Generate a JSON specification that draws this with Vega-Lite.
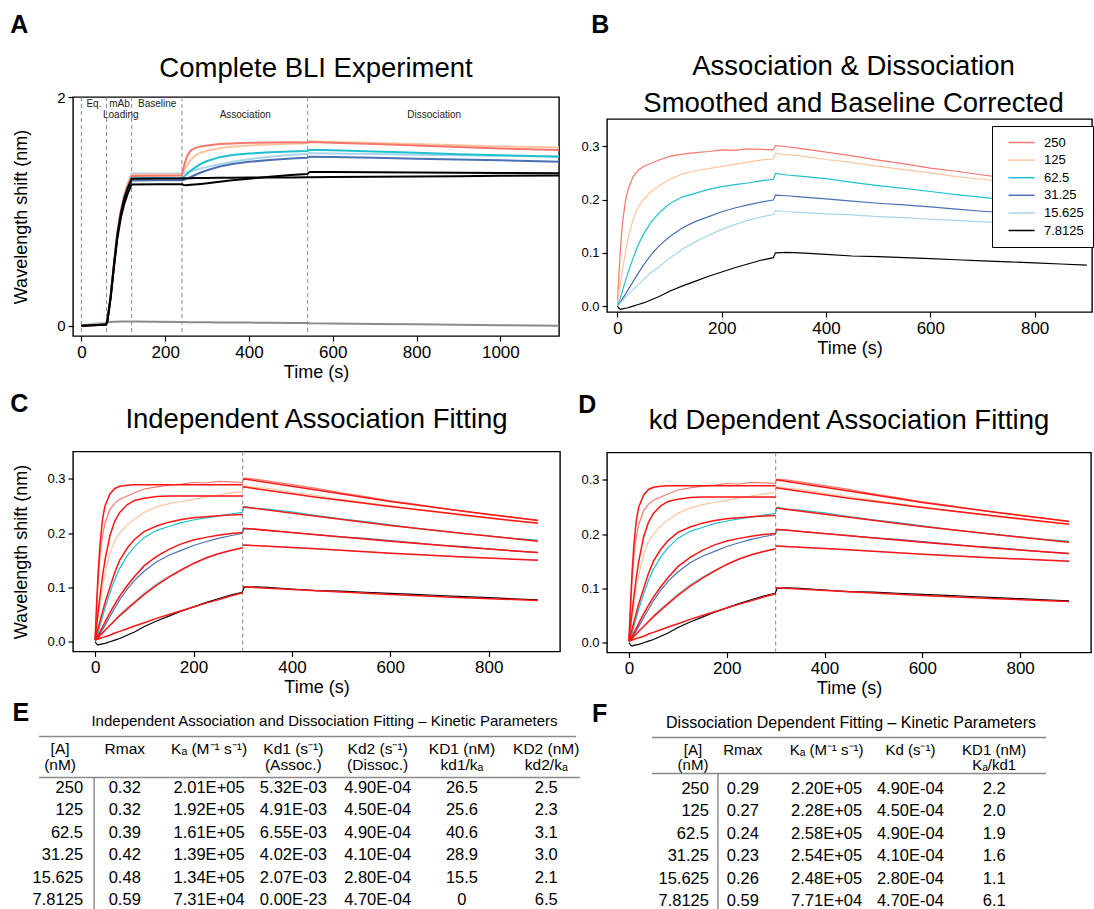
{
  "$schema": "https://vega.github.io/schema/vega-lite/v6.json",
  "background": "white",
  "padding": {"left": 10, "top": 8.5, "right": 0, "bottom": 0},
  "config": {
    "font": "Liberation Sans",
    "view": {"stroke": "black", "strokeWidth": 1.4},
    "axis": {"grid": false, "domain": false, "ticks": true, "tickColor": "black", "tickSize": 5, "tickWidth": 1.2, "labelColor": "black", "labelFont": "Liberation Sans", "labelPadding": 3, "titleFont": "Liberation Sans", "titleFontWeight": "normal", "titleColor": "black", "titleFontSize": 18, "titlePadding": 3, "labelFlush": false, "labelOverlap": false},
    "axisX": {"labelFontSize": 17},
    "axisY": {"labelFontSize": 13},
    "title": {"font": "Liberation Sans", "fontWeight": "normal", "color": "black"},
    "text": {"font": "Liberation Sans", "color": "black"}
  },
  "datasets": {
    "full": [
      {"t":0,"bare":0.0,"r15":0.0,"r31":0.0,"r62":0.0,"r125":0.0,"r250":0.0,"ref":0.0,"r7":0.0},
      {"t":30,"bare":0.01,"r15":0.02,"r31":0.008,"r62":0.008,"r125":0.008,"r250":0.008,"ref":0.005,"r7":0.005},
      {"t":59,"bare":0.02,"r15":0.028,"r31":0.012,"r62":0.012,"r125":0.012,"r250":0.012,"ref":0.01,"r7":0.01},
      {"t":62,"bare":0.03,"r15":0.045,"r31":0.04,"r62":0.04,"r125":0.04,"r250":0.04,"ref":0.04,"r7":0.04},
      {"t":70,"bare":0.033,"r15":0.266,"r31":0.254,"r62":0.258,"r125":0.264,"r250":0.262,"ref":0.258,"r7":0.247},
      {"t":78,"bare":0.034,"r15":0.559,"r31":0.533,"r62":0.542,"r125":0.554,"r250":0.55,"ref":0.542,"r7":0.519},
      {"t":86,"bare":0.035,"r15":0.825,"r31":0.787,"r62":0.8,"r125":0.818,"r250":0.812,"ref":0.8,"r7":0.766},
      {"t":94,"bare":0.036,"r15":1.011,"r31":0.965,"r62":0.98,"r125":1.003,"r250":0.996,"ref":0.98,"r7":0.939},
      {"t":102,"bare":0.037,"r15":1.144,"r31":1.092,"r62":1.109,"r125":1.135,"r250":1.127,"ref":1.109,"r7":1.062},
      {"t":110,"bare":0.037,"r15":1.237,"r31":1.181,"r62":1.2,"r125":1.228,"r250":1.218,"ref":1.2,"r7":1.149},
      {"t":120,"bare":0.037,"r15":1.33,"r31":1.27,"r62":1.29,"r125":1.32,"r250":1.31,"ref":1.285,"r7":1.235},
      {"t":180,"bare":0.035,"r15":1.332,"r31":1.272,"r62":1.292,"r125":1.322,"r250":1.312,"ref":1.287,"r7":1.236},
      {"t":240,"bare":0.032,"r15":1.333,"r31":1.273,"r62":1.293,"r125":1.323,"r250":1.313,"ref":1.288,"r7":1.237},
      {"t":245,"bare":0.032,"r15":1.335,"r31":1.277,"r62":1.303,"r125":1.36,"r250":1.4,"ref":1.29,"r7":1.23},
      {"t":252,"bare":0.031,"r15":1.342,"r31":1.287,"r62":1.326,"r125":1.4,"r250":1.48,"ref":1.29,"r7":1.228},
      {"t":260,"bare":0.031,"r15":1.351,"r31":1.3,"r62":1.352,"r125":1.445,"r250":1.528,"ref":1.29,"r7":1.232},
      {"t":270,"bare":0.031,"r15":1.361,"r31":1.316,"r62":1.38,"r125":1.483,"r250":1.553,"ref":1.291,"r7":1.235},
      {"t":285,"bare":0.03,"r15":1.375,"r31":1.34,"r62":1.415,"r125":1.513,"r250":1.568,"ref":1.291,"r7":1.24},
      {"t":300,"bare":0.03,"r15":1.389,"r31":1.36,"r62":1.44,"r125":1.53,"r250":1.576,"ref":1.292,"r7":1.245},
      {"t":330,"bare":0.029,"r15":1.412,"r31":1.392,"r62":1.474,"r125":1.552,"r250":1.588,"ref":1.293,"r7":1.258},
      {"t":360,"bare":0.028,"r15":1.434,"r31":1.414,"r62":1.493,"r125":1.566,"r250":1.594,"ref":1.294,"r7":1.271},
      {"t":400,"bare":0.027,"r15":1.456,"r31":1.433,"r62":1.505,"r125":1.576,"r250":1.599,"ref":1.295,"r7":1.286},
      {"t":450,"bare":0.026,"r15":1.478,"r31":1.45,"r62":1.516,"r125":1.584,"r250":1.602,"ref":1.296,"r7":1.302},
      {"t":500,"bare":0.024,"r15":1.494,"r31":1.462,"r62":1.523,"r125":1.592,"r250":1.604,"ref":1.297,"r7":1.317},
      {"t":539,"bare":0.023,"r15":1.502,"r31":1.469,"r62":1.528,"r125":1.596,"r250":1.603,"ref":1.298,"r7":1.326},
      {"t":545,"bare":0.022,"r15":1.509,"r31":1.478,"r62":1.539,"r125":1.612,"r250":1.606,"ref":1.298,"r7":1.345},
      {"t":600,"bare":0.02,"r15":1.506,"r31":1.475,"r62":1.534,"r125":1.607,"r250":1.601,"ref":1.3,"r7":1.344},
      {"t":700,"bare":0.016,"r15":1.501,"r31":1.468,"r62":1.523,"r125":1.598,"r250":1.589,"ref":1.302,"r7":1.342},
      {"t":800,"bare":0.012,"r15":1.496,"r31":1.46,"r62":1.512,"r125":1.588,"r250":1.576,"ref":1.305,"r7":1.34},
      {"t":900,"bare":0.008,"r15":1.491,"r31":1.453,"r62":1.5,"r125":1.578,"r250":1.563,"ref":1.308,"r7":1.338},
      {"t":1000,"bare":0.005,"r15":1.487,"r31":1.446,"r62":1.49,"r125":1.568,"r250":1.55,"ref":1.311,"r7":1.336},
      {"t":1140,"bare":0.0,"r15":1.481,"r31":1.434,"r62":1.477,"r125":1.558,"r250":1.537,"ref":1.314,"r7":1.334}
    ],
    "kin": [
      {"t":0,"c250":0.010,"c125":0.005,"c62":0.002,"c31":0.001,"c15":0.000,"c7":0.000},
      {"t":3,"c250":0.060,"c125":0.025,"c62":0.008,"c31":0.004,"c15":0.003,"c7":-0.004},
      {"t":6,"c250":0.110,"c125":0.045,"c62":0.016,"c31":0.008,"c15":0.006,"c7":-0.006},
      {"t":10,"c250":0.158,"c125":0.070,"c62":0.030,"c31":0.014,"c15":0.010,"c7":-0.005},
      {"t":15,"c250":0.195,"c125":0.100,"c62":0.046,"c31":0.022,"c15":0.016,"c7":-0.004},
      {"t":20,"c250":0.218,"c125":0.125,"c62":0.062,"c31":0.030,"c15":0.021,"c7":-0.003},
      {"t":30,"c250":0.243,"c125":0.163,"c62":0.090,"c31":0.046,"c15":0.031,"c7":0.000},
      {"t":40,"c250":0.255,"c125":0.186,"c62":0.115,"c31":0.062,"c15":0.040,"c7":0.003},
      {"t":50,"c250":0.262,"c125":0.200,"c62":0.135,"c31":0.077,"c15":0.050,"c7":0.006},
      {"t":65,"c250":0.268,"c125":0.215,"c62":0.158,"c31":0.097,"c15":0.063,"c7":0.012},
      {"t":80,"c250":0.274,"c125":0.226,"c62":0.175,"c31":0.113,"c15":0.074,"c7":0.018},
      {"t":100,"c250":0.281,"c125":0.238,"c62":0.192,"c31":0.130,"c15":0.090,"c7":0.028},
      {"t":125,"c250":0.285,"c125":0.248,"c62":0.205,"c31":0.147,"c15":0.107,"c7":0.038},
      {"t":150,"c250":0.288,"c125":0.254,"c62":0.212,"c31":0.159,"c15":0.121,"c7":0.047},
      {"t":175,"c250":0.290,"c125":0.258,"c62":0.219,"c31":0.168,"c15":0.133,"c7":0.056},
      {"t":200,"c250":0.293,"c125":0.262,"c62":0.224,"c31":0.177,"c15":0.144,"c7":0.064},
      {"t":225,"c250":0.292,"c125":0.266,"c62":0.228,"c31":0.184,"c15":0.153,"c7":0.072},
      {"t":250,"c250":0.295,"c125":0.270,"c62":0.231,"c31":0.190,"c15":0.161,"c7":0.079},
      {"t":275,"c250":0.294,"c125":0.274,"c62":0.235,"c31":0.195,"c15":0.167,"c7":0.086},
      {"t":299,"c250":0.293,"c125":0.276,"c62":0.238,"c31":0.199,"c15":0.172,"c7":0.091},
      {"t":303,"c250":0.301,"c125":0.287,"c62":0.249,"c31":0.208,"c15":0.179,"c7":0.100},
      {"t":325,"c250":0.299,"c125":0.284,"c62":0.246,"c31":0.207,"c15":0.177,"c7":0.101},
      {"t":350,"c250":0.296,"c125":0.282,"c62":0.244,"c31":0.205,"c15":0.176,"c7":0.100},
      {"t":400,"c250":0.289,"c125":0.275,"c62":0.239,"c31":0.201,"c15":0.173,"c7":0.097},
      {"t":450,"c250":0.282,"c125":0.269,"c62":0.232,"c31":0.197,"c15":0.171,"c7":0.094},
      {"t":500,"c250":0.274,"c125":0.262,"c62":0.226,"c31":0.193,"c15":0.168,"c7":0.093},
      {"t":550,"c250":0.267,"c125":0.256,"c62":0.221,"c31":0.190,"c15":0.166,"c7":0.091},
      {"t":600,"c250":0.259,"c125":0.250,"c62":0.215,"c31":0.186,"c15":0.163,"c7":0.089},
      {"t":650,"c250":0.253,"c125":0.243,"c62":0.209,"c31":0.182,"c15":0.161,"c7":0.087},
      {"t":700,"c250":0.246,"c125":0.238,"c62":0.204,"c31":0.178,"c15":0.158,"c7":0.085},
      {"t":750,"c250":0.240,"c125":0.232,"c62":0.199,"c31":0.175,"c15":0.156,"c7":0.083},
      {"t":800,"c250":0.234,"c125":0.227,"c62":0.195,"c31":0.171,"c15":0.154,"c7":0.081},
      {"t":850,"c250":0.229,"c125":0.222,"c62":0.190,"c31":0.167,"c15":0.152,"c7":0.079},
      {"t":900,"c250":0.224,"c125":0.219,"c62":0.187,"c31":0.164,"c15":0.151,"c7":0.077}
    ],
    "fit": [
      {"t":0,"ph":"a","c250":0.003,"c125":0.003,"c62":0.003,"c31":0.003,"c15":0.003,"c7":0.003},
      {"t":3,"ph":"a","c250":0.07,"c125":0.03,"c62":0.013,"c31":0.007,"c15":0.005,"c7":0.004},
      {"t":6,"ph":"a","c250":0.125,"c125":0.055,"c62":0.024,"c31":0.011,"c15":0.007,"c7":0.005},
      {"t":10,"ph":"a","c250":0.18,"c125":0.085,"c62":0.038,"c31":0.018,"c15":0.012,"c7":0.006},
      {"t":15,"ph":"a","c250":0.225,"c125":0.12,"c62":0.055,"c31":0.027,"c15":0.016,"c7":0.008},
      {"t":20,"ph":"a","c250":0.25,"c125":0.15,"c62":0.072,"c31":0.036,"c15":0.021,"c7":0.009},
      {"t":30,"ph":"a","c250":0.272,"c125":0.195,"c62":0.1,"c31":0.053,"c15":0.03,"c7":0.012},
      {"t":40,"ph":"a","c250":0.282,"c125":0.222,"c62":0.128,"c31":0.069,"c15":0.039,"c7":0.016},
      {"t":50,"ph":"a","c250":0.286,"c125":0.238,"c62":0.15,"c31":0.084,"c15":0.048,"c7":0.019},
      {"t":65,"ph":"a","c250":0.288,"c125":0.252,"c62":0.172,"c31":0.103,"c15":0.06,"c7":0.024},
      {"t":80,"ph":"a","c250":0.2888,"c125":0.26,"c62":0.188,"c31":0.12,"c15":0.072,"c7":0.029},
      {"t":100,"ph":"a","c250":0.289,"c125":0.264,"c62":0.203,"c31":0.14,"c15":0.087,"c7":0.035},
      {"t":125,"ph":"a","c250":0.289,"c125":0.267,"c62":0.213,"c31":0.157,"c15":0.104,"c7":0.043},
      {"t":150,"ph":"a","c250":0.289,"c125":0.268,"c62":0.22,"c31":0.17,"c15":0.119,"c7":0.05},
      {"t":175,"ph":"a","c250":0.289,"c125":0.268,"c62":0.225,"c31":0.18,"c15":0.132,"c7":0.057},
      {"t":200,"ph":"a","c250":0.289,"c125":0.268,"c62":0.228,"c31":0.187,"c15":0.144,"c7":0.064},
      {"t":225,"ph":"a","c250":0.289,"c125":0.268,"c62":0.23,"c31":0.192,"c15":0.154,"c7":0.071},
      {"t":250,"ph":"a","c250":0.289,"c125":0.268,"c62":0.232,"c31":0.196,"c15":0.162,"c7":0.077},
      {"t":275,"ph":"a","c250":0.289,"c125":0.268,"c62":0.233,"c31":0.199,"c15":0.168,"c7":0.084},
      {"t":300,"ph":"a","c250":0.289,"c125":0.268,"c62":0.234,"c31":0.201,"c15":0.173,"c7":0.09},
      {"t":300,"ph":"d","c250":0.3,"c125":0.285,"c62":0.248,"c31":0.209,"c15":0.178,"c7":0.101},
      {"t":450,"ph":"d","c250":0.279,"c125":0.266,"c62":0.231,"c31":0.197,"c15":0.171,"c7":0.094},
      {"t":600,"ph":"d","c250":0.258,"c125":0.249,"c62":0.214,"c31":0.185,"c15":0.163,"c7":0.087},
      {"t":750,"ph":"d","c250":0.24,"c125":0.233,"c62":0.199,"c31":0.174,"c15":0.156,"c7":0.081},
      {"t":900,"ph":"d","c250":0.223,"c125":0.218,"c62":0.185,"c31":0.164,"c15":0.15,"c7":0.076}
    ],
    "tabE": [
      {"r":1,"A":"250","Rmax":"0.32","Ka":"2.01E+05","Kd1":"5.32E-03","Kd2":"4.90E-04","KD1":"26.5","KD2":"2.5"},
      {"r":2,"A":"125","Rmax":"0.32","Ka":"1.92E+05","Kd1":"4.91E-03","Kd2":"4.50E-04","KD1":"25.6","KD2":"2.3"},
      {"r":3,"A":"62.5","Rmax":"0.39","Ka":"1.61E+05","Kd1":"6.55E-03","Kd2":"4.90E-04","KD1":"40.6","KD2":"3.1"},
      {"r":4,"A":"31.25","Rmax":"0.42","Ka":"1.39E+05","Kd1":"4.02E-03","Kd2":"4.10E-04","KD1":"28.9","KD2":"3.0"},
      {"r":5,"A":"15.625","Rmax":"0.48","Ka":"1.34E+05","Kd1":"2.07E-03","Kd2":"2.80E-04","KD1":"15.5","KD2":"2.1"},
      {"r":6,"A":"7.8125","Rmax":"0.59","Ka":"7.31E+04","Kd1":"0.00E-23","Kd2":"4.70E-04","KD1":"0","KD2":"6.5"}
    ],
    "tabF": [
      {"r":1,"A":"250","Rmax":"0.29","Ka":"2.20E+05","Kd":"4.90E-04","KD1":"2.2"},
      {"r":2,"A":"125","Rmax":"0.27","Ka":"2.28E+05","Kd":"4.50E-04","KD1":"2.0"},
      {"r":3,"A":"62.5","Rmax":"0.24","Ka":"2.58E+05","Kd":"4.90E-04","KD1":"1.9"},
      {"r":4,"A":"31.25","Rmax":"0.23","Ka":"2.54E+05","Kd":"4.10E-04","KD1":"1.6"},
      {"r":5,"A":"15.625","Rmax":"0.26","Ka":"2.48E+05","Kd":"2.80E-04","KD1":"1.1"},
      {"r":6,"A":"7.8125","Rmax":"0.59","Ka":"7.71E+04","Kd":"4.70E-04","KD1":"6.1"}
    ]
  },
  "resolve": {"scale": {"color": "independent"}, "legend": {"color": "independent"}},
  "columns": 2,
  "align": "none",
  "spacing": -3,
  "concat": [
    {
      "columns": 1,
      "align": "none",
      "spacing": 2.5,
      "resolve": {"scale": {"color": "independent"}, "legend": {"color": "independent"}},
      "concat": [
        {"width": 1, "height": 1, "view": {"stroke": null}, "data": {"values": []}, "mark": "point"},
        {
          "columns": 1,
          "align": "none",
          "spacing": 9.5,
          "resolve": {"scale": {"color": "independent"}, "legend": {"color": "independent"}},
          "concat": [
            {
              "title": {"text": "A", "anchor": "start", "frame": "bounds", "fontSize": 25, "fontWeight": "bold", "offset": 16, "dx": -2},
              "vconcat": [
                {
                  "width": 486,
                  "height": 239,
                  "title": {"text": "Complete BLI Experiment", "fontSize": 27.5, "offset": 8},
                  "layer": [
                    {
                      "data": {"values": [{"t": 0}, {"t": 60}, {"t": 120}, {"t": 240}, {"t": 540}]},
                      "mark": {"type": "rule", "color": "#808080", "strokeWidth": 0.9, "strokeDash": [4, 3]},
                      "encoding": {
                        "x": {"field": "t", "type": "quantitative", "title": "Time (s)", "scale": {"domain": [-20, 1140], "nice": false, "zero": false}, "axis": {"values": [0, 200, 400, 600, 800, 1000], "format": "d"}}
                      }
                    },
                    {
                      "data": {"name": "full"},
                      "transform": [{"fold": ["bare", "r15", "r31", "r62", "r125", "r250", "ref", "r7"], "as": ["trace", "v"]}],
                      "mark": {"type": "line", "strokeWidth": 2, "clip": true},
                      "encoding": {
                        "x": {"field": "t", "type": "quantitative", "title": "Time (s)"},
                        "y": {"field": "v", "type": "quantitative", "title": "Wavelength shift (nm)", "scale": {"domain": [-0.09, 2.0], "nice": false, "zero": false}, "axis": {"values": [0, 1, 2], "format": "d", "labelFontSize": 15, "titlePadding": 25.7}},
                        "color": {"field": "trace", "type": "nominal", "legend": null, "scale": {"domain": ["bare", "r15", "r31", "r62", "r125", "r250", "ref", "r7"], "range": ["#8c8c8c", "#a7d6ea", "#4a70b3", "#1fc0d0", "#fdc59e", "#f8776e", "#000000", "#000000"]}}
                      }
                    },
                    {
                      "data": {"values": [
                        {"t": 30, "v": 1.935, "label": "Eq."},
                        {"t": 91, "v": 1.935, "label": "mAb"},
                        {"t": 94, "v": 1.845, "label": "Loading"},
                        {"t": 181, "v": 1.935, "label": "Baseline"},
                        {"t": 391, "v": 1.845, "label": "Association"},
                        {"t": 842, "v": 1.845, "label": "Dissociation"}
                      ]},
                      "mark": {"type": "text", "fontSize": 10, "color": "#222222"},
                      "encoding": {
                        "x": {"field": "t", "type": "quantitative", "title": "Time (s)"},
                        "y": {"field": "v", "type": "quantitative", "title": "Wavelength shift (nm)"},
                        "text": {"field": "label", "type": "nominal"}
                      }
                    }
                  ]
                }
              ]
            },
            {
              "title": {"text": "C", "anchor": "start", "frame": "bounds", "fontSize": 25, "fontWeight": "bold", "offset": -12, "dx": -2},
              "vconcat": [
                {
                  "width": 487,
                  "height": 200,
                  "title": {"text": "Independent Association Fitting", "fontSize": 27.5, "offset": 18},
                  "layer": [
                    {
                      "data": {"values": [{}]},
                      "mark": {"type": "rule", "color": "#808080", "strokeWidth": 0.9, "strokeDash": [4, 3]},
                      "encoding": {"x": {"datum": 300, "type": "quantitative"}}
                    },
                    {
                      "data": {"name": "kin"},
                      "transform": [{"fold": ["c250", "c125", "c62", "c31", "c15", "c7"], "as": ["conc", "v"]}],
                      "mark": {"type": "line", "strokeWidth": 1.2, "clip": true},
                      "encoding": {
                        "x": {"field": "t", "type": "quantitative", "title": "Time (s)", "scale": {"domain": [-45, 945], "nice": false, "zero": false}, "axis": {"values": [0, 200, 400, 600, 800]}},
                        "y": {"field": "v", "type": "quantitative", "title": "Wavelength shift (nm)", "scale": {"domain": [-0.018, 0.35], "nice": false, "zero": false}, "axis": {"values": [0, 0.1, 0.2, 0.3], "format": ".1f", "titlePadding": 16}},
                        "color": {"field": "conc", "type": "nominal", "legend": null, "scale": {"domain": ["c250", "c125", "c62", "c31", "c15", "c7"], "range": ["#f8776e", "#fdc59e", "#1fc0d0", "#4a70b3", "#a7d6ea", "#000000"]}}
                      }
                    },
                    {
                      "data": {"name": "fit"},
                      "transform": [{"fold": ["c250", "c125", "c62", "c31", "c15", "c7"], "as": ["conc", "v"]}],
                      "mark": {"type": "line", "strokeWidth": 1.5, "color": "#ff1414", "clip": true},
                      "encoding": {
                        "x": {"field": "t", "type": "quantitative", "title": "Time (s)"},
                        "y": {"field": "v", "type": "quantitative", "title": "Wavelength shift (nm)"},
                        "detail": [{"field": "conc", "type": "nominal"}, {"field": "ph", "type": "nominal"}]
                      }
                    }
                  ]
                }
              ]
            }
          ]
        },
        {
          "title": {"text": "E", "anchor": "start", "frame": "bounds", "fontSize": 25, "fontWeight": "bold", "offset": -12, "dx": -20},
          "vconcat": [
            {
              "width": 503,
              "height": 173,
              "view": {"stroke": null},
              "title": {"text": "Independent Association and Dissociation Fitting – Kinetic Parameters", "fontSize": 15, "offset": 7},
              "layer": [
                {
                  "data": {"values": [{}]},
                  "mark": {"type": "rule", "color": "#8a8a8a", "strokeWidth": 1.5},
                  "encoding": {
                    "x": {"datum": 0.983, "type": "quantitative", "scale": {"domain": [1.386, 7.353], "nice": false, "zero": false}, "axis": null},
                    "x2": {"datum": 7.353},
                    "y": {"datum": -1.26, "type": "quantitative", "scale": {"domain": [-1.26, 6.4], "reverse": true, "nice": false, "zero": false}, "axis": null}
                  }
                },
                {
                  "data": {"values": [{}]},
                  "mark": {"type": "rule", "color": "#8a8a8a", "strokeWidth": 1.5},
                  "encoding": {"x": {"datum": 0.983, "type": "quantitative"}, "x2": {"datum": 7.4}, "y": {"datum": 0.56, "type": "quantitative"}}
                },
                {
                  "data": {"values": [{}]},
                  "mark": {"type": "rule", "color": "#555555", "strokeWidth": 1},
                  "encoding": {"x": {"datum": 1.636, "type": "quantitative"}, "y": {"datum": 0.56, "type": "quantitative"}, "y2": {"datum": 6.4}}
                },
                {
                  "data": {"values": [{"h": ["[A]", "(nM)"]}]},
                  "mark": {"type": "text", "fontSize": 15.5, "baseline": "top", "lineHeight": 15.6, "dx": 19.6},
                  "encoding": {"x": {"datum": 1, "type": "quantitative"}, "y": {"datum": -1, "type": "quantitative"}, "text": {"field": "h", "type": "nominal"}}
                },
                {
                  "data": {"values": [
                    {"c": 2, "h": ["Rmax"]},
                    {"c": 3, "h": ["Kₐ (M⁻¹ s⁻¹)"]},
                    {"c": 4, "h": ["Kd1 (s⁻¹)", "(Assoc.)"]},
                    {"c": 5, "h": ["Kd2 (s⁻¹)", "(Dissoc.)"]},
                    {"c": 6, "h": ["KD1 (nM)", "kd1/kₐ"]},
                    {"c": 7, "h": ["KD2 (nM)", "kd2/kₐ"]}
                  ]},
                  "mark": {"type": "text", "fontSize": 15.5, "baseline": "top", "lineHeight": 15.6},
                  "encoding": {"x": {"field": "c", "type": "quantitative"}, "y": {"datum": -1, "type": "quantitative"}, "text": {"field": "h", "type": "nominal"}}
                },
                {
                  "data": {"name": "tabE"},
                  "mark": {"type": "text", "fontSize": 16.5, "align": "right", "dx": 42.6},
                  "encoding": {"x": {"datum": 1, "type": "quantitative"}, "y": {"field": "r", "type": "quantitative"}, "text": {"field": "A", "type": "nominal"}}
                },
                {
                  "data": {"name": "tabE"},
                  "mark": {"type": "text", "fontSize": 16.5},
                  "encoding": {"x": {"datum": 2, "type": "quantitative"}, "y": {"field": "r", "type": "quantitative"}, "text": {"field": "Rmax", "type": "nominal"}}
                },
                {
                  "data": {"name": "tabE"},
                  "mark": {"type": "text", "fontSize": 16.5},
                  "encoding": {"x": {"datum": 3, "type": "quantitative"}, "y": {"field": "r", "type": "quantitative"}, "text": {"field": "Ka", "type": "nominal"}}
                },
                {
                  "data": {"name": "tabE"},
                  "mark": {"type": "text", "fontSize": 16.5},
                  "encoding": {"x": {"datum": 4, "type": "quantitative"}, "y": {"field": "r", "type": "quantitative"}, "text": {"field": "Kd1", "type": "nominal"}}
                },
                {
                  "data": {"name": "tabE"},
                  "mark": {"type": "text", "fontSize": 16.5},
                  "encoding": {"x": {"datum": 5, "type": "quantitative"}, "y": {"field": "r", "type": "quantitative"}, "text": {"field": "Kd2", "type": "nominal"}}
                },
                {
                  "data": {"name": "tabE"},
                  "mark": {"type": "text", "fontSize": 16.5},
                  "encoding": {"x": {"datum": 6, "type": "quantitative"}, "y": {"field": "r", "type": "quantitative"}, "text": {"field": "KD1", "type": "nominal"}}
                },
                {
                  "data": {"name": "tabE"},
                  "mark": {"type": "text", "fontSize": 16.5},
                  "encoding": {"x": {"datum": 7, "type": "quantitative"}, "y": {"field": "r", "type": "quantitative"}, "text": {"field": "KD2", "type": "nominal"}}
                }
              ]
            }
          ]
        }
      ]
    },
    {
      "columns": 1,
      "align": "none",
      "spacing": 2.5,
      "resolve": {"scale": {"color": "independent"}, "legend": {"color": "independent"}},
      "concat": [
        {"width": 1, "height": 1, "view": {"stroke": null}, "data": {"values": []}, "mark": "point"},
        {
          "columns": 1,
          "align": "none",
          "spacing": 34.5,
          "resolve": {"scale": {"color": "independent"}, "legend": {"color": "independent"}},
          "concat": [
            {
              "title": {"text": "B", "anchor": "start", "frame": "bounds", "fontSize": 25, "fontWeight": "bold", "offset": 14, "dx": 11},
              "vconcat": [
                {
                  "width": 485,
                  "height": 193,
                  "title": {"text": ["Association & Dissociation", "Smoothed and Baseline Corrected"], "fontSize": 27.5, "lineHeight": 37, "offset": 2, "dx": 4},
                  "data": {"name": "kin"},
                  "transform": [{"fold": ["c250", "c125", "c62", "c31", "c15", "c7"], "as": ["conc", "v"]}],
                  "mark": {"type": "line", "strokeWidth": 1.2, "clip": true},
                  "encoding": {
                    "x": {"field": "t", "type": "quantitative", "title": "Time (s)", "scale": {"domain": [-20, 910], "nice": false, "zero": false}, "axis": {"values": [0, 200, 400, 600, 800]}},
                    "y": {"field": "v", "type": "quantitative", "title": null, "scale": {"domain": [-0.011, 0.351], "nice": false, "zero": false}, "axis": {"values": [0, 0.1, 0.2, 0.3], "format": ".1f"}},
                    "color": {
                      "field": "conc", "type": "nominal",
                      "scale": {"domain": ["c250", "c125", "c62", "c31", "c15", "c7"], "range": ["#f8776e", "#fdc59e", "#1fc0d0", "#4a70b3", "#a7d6ea", "#000000"]},
                      "legend": {"title": null, "orient": "none", "legendX": 385, "legendY": 7, "labelExpr": "datum.label == 'c250' ? '250' : datum.label == 'c125' ? '125' : datum.label == 'c62' ? '62.5' : datum.label == 'c31' ? '31.25' : datum.label == 'c15' ? '15.625' : '7.8125'", "symbolType": "M-2,0H2", "symbolStrokeWidth": 1.5, "symbolSize": 169, "symbolOffset": 13, "labelFontSize": 13, "labelFont": "Liberation Sans", "labelColor": "black", "strokeColor": "black", "fillColor": "white", "padding": 9, "rowPadding": 2.6, "cornerRadius": 0, "labelOffset": 15}
                    }
                  }
                }
              ]
            },
            {
              "title": {"text": "D", "anchor": "start", "frame": "bounds", "fontSize": 25, "fontWeight": "bold", "offset": -12, "dx": -2},
              "vconcat": [
                {
                  "width": 484,
                  "height": 200,
                  "title": {"text": "kd Dependent Association Fitting", "fontSize": 27.5, "offset": 18},
                  "layer": [
                    {
                      "data": {"values": [{}]},
                      "mark": {"type": "rule", "color": "#808080", "strokeWidth": 0.9, "strokeDash": [4, 3]},
                      "encoding": {"x": {"datum": 300, "type": "quantitative"}}
                    },
                    {
                      "data": {"name": "kin"},
                      "transform": [{"fold": ["c250", "c125", "c62", "c31", "c15", "c7"], "as": ["conc", "v"]}],
                      "mark": {"type": "line", "strokeWidth": 1.2, "clip": true},
                      "encoding": {
                        "x": {"field": "t", "type": "quantitative", "title": "Time (s)", "scale": {"domain": [-45, 945], "nice": false, "zero": false}, "axis": {"values": [0, 200, 400, 600, 800]}},
                        "y": {"field": "v", "type": "quantitative", "title": null, "scale": {"domain": [-0.018, 0.35], "nice": false, "zero": false}, "axis": {"values": [0, 0.1, 0.2, 0.3], "format": ".1f"}},
                        "color": {"field": "conc", "type": "nominal", "legend": null, "scale": {"domain": ["c250", "c125", "c62", "c31", "c15", "c7"], "range": ["#f8776e", "#fdc59e", "#1fc0d0", "#4a70b3", "#a7d6ea", "#000000"]}}
                      }
                    },
                    {
                      "data": {"name": "fit"},
                      "transform": [{"fold": ["c250", "c125", "c62", "c31", "c15", "c7"], "as": ["conc", "v"]}],
                      "mark": {"type": "line", "strokeWidth": 1.5, "color": "#ff1414", "clip": true},
                      "encoding": {
                        "x": {"field": "t", "type": "quantitative", "title": "Time (s)"},
                        "y": {"field": "v", "type": "quantitative", "title": null},
                        "detail": [{"field": "conc", "type": "nominal"}, {"field": "ph", "type": "nominal"}]
                      }
                    }
                  ]
                }
              ]
            }
          ]
        },
        {
          "title": {"text": "F", "anchor": "start", "frame": "bounds", "fontSize": 25, "fontWeight": "bold", "offset": -12, "dx": -15},
          "vconcat": [
            {
              "width": 439,
              "height": 173,
              "view": {"stroke": null},
              "title": {"text": "Dissociation Dependent Fitting – Kinetic Parameters", "fontSize": 16, "offset": 6, "dx": 24.5},
              "layer": [
                {
                  "data": {"values": [{}]},
                  "mark": {"type": "rule", "color": "#8a8a8a", "strokeWidth": 1.5},
                  "encoding": {
                    "x": {"datum": 0.917, "type": "quantitative", "scale": {"domain": [0.380, 5.618], "nice": false, "zero": false}, "axis": null},
                    "x2": {"datum": 5.618},
                    "y": {"datum": -1.26, "type": "quantitative", "scale": {"domain": [-1.26, 6.4], "reverse": true, "nice": false, "zero": false}, "axis": null}
                  }
                },
                {
                  "data": {"values": [{}]},
                  "mark": {"type": "rule", "color": "#8a8a8a", "strokeWidth": 1.5},
                  "encoding": {"x": {"datum": 0.917, "type": "quantitative"}, "x2": {"datum": 5.618}, "y": {"datum": 0.336, "type": "quantitative"}}
                },
                {
                  "data": {"values": [{}]},
                  "mark": {"type": "rule", "color": "#555555", "strokeWidth": 1},
                  "encoding": {"x": {"datum": 1.704, "type": "quantitative"}, "y": {"datum": 0.336, "type": "quantitative"}, "y2": {"datum": 6.4}}
                },
                {
                  "data": {"values": [{"h": ["[A]", "(nM)"]}]},
                  "mark": {"type": "text", "fontSize": 15, "baseline": "top", "lineHeight": 15.1, "dx": 34},
                  "encoding": {"x": {"datum": 1, "type": "quantitative"}, "y": {"datum": -1, "type": "quantitative"}, "text": {"field": "h", "type": "nominal"}}
                },
                {
                  "data": {"values": [
                    {"c": 2, "h": ["Rmax"]},
                    {"c": 3, "h": ["Kₐ (M⁻¹ s⁻¹)"]},
                    {"c": 4, "h": ["Kd (s⁻¹)"]},
                    {"c": 5, "h": ["KD1 (nM)", "Kₐ/kd1"]}
                  ]},
                  "mark": {"type": "text", "fontSize": 15, "baseline": "top", "lineHeight": 15.1},
                  "encoding": {"x": {"field": "c", "type": "quantitative"}, "y": {"datum": -1, "type": "quantitative"}, "text": {"field": "h", "type": "nominal"}}
                },
                {
                  "data": {"name": "tabF"},
                  "mark": {"type": "text", "fontSize": 16.5, "align": "right", "dx": 50},
                  "encoding": {"x": {"datum": 1, "type": "quantitative"}, "y": {"field": "r", "type": "quantitative"}, "text": {"field": "A", "type": "nominal"}}
                },
                {
                  "data": {"name": "tabF"},
                  "mark": {"type": "text", "fontSize": 16.5},
                  "encoding": {"x": {"datum": 2, "type": "quantitative"}, "y": {"field": "r", "type": "quantitative"}, "text": {"field": "Rmax", "type": "nominal"}}
                },
                {
                  "data": {"name": "tabF"},
                  "mark": {"type": "text", "fontSize": 16.5},
                  "encoding": {"x": {"datum": 3, "type": "quantitative"}, "y": {"field": "r", "type": "quantitative"}, "text": {"field": "Ka", "type": "nominal"}}
                },
                {
                  "data": {"name": "tabF"},
                  "mark": {"type": "text", "fontSize": 16.5},
                  "encoding": {"x": {"datum": 4, "type": "quantitative"}, "y": {"field": "r", "type": "quantitative"}, "text": {"field": "Kd", "type": "nominal"}}
                },
                {
                  "data": {"name": "tabF"},
                  "mark": {"type": "text", "fontSize": 16.5},
                  "encoding": {"x": {"datum": 5, "type": "quantitative"}, "y": {"field": "r", "type": "quantitative"}, "text": {"field": "KD1", "type": "nominal"}}
                }
              ]
            }
          ]
        }
      ]
    }
  ]
}
